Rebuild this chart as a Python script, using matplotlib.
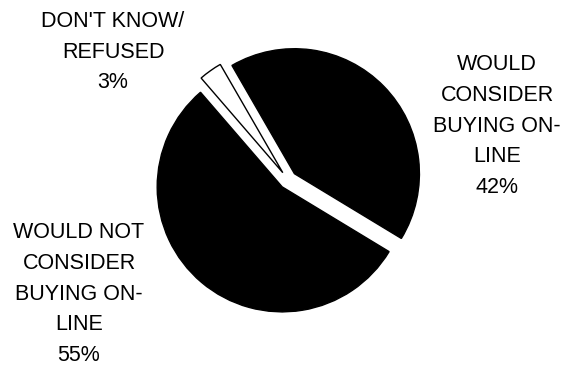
import matplotlib.pyplot as plt

plt.rcParams['font.family'] = ['Liberation Sans', 'DejaVu Sans']

shares = [42, 55, 3]
labels = ['WOULD\nCONSIDER\nBUYING ON-\nLINE\n42%',
          'WOULD NOT\nCONSIDER\nBUYING ON-\nLINE\n55%',
          "DON'T KNOW/\nREFUSED\n3%"]
colors = ['black', 'black', 'white']
label_xy = [(497, 375 - 126), (79, 375 - 294), (113, 375 - 52)]

fig = plt.figure(figsize=(5.7, 3.75), dpi=100)
ax = fig.add_axes([0, 0, 1, 1])

# explode is in data units here (pixels), not a fraction of the radius
ax.pie(shares, colors=colors, startangle=120, counterclock=False,
       center=(288, 195), radius=125, explode=[9, 9, 9],
       wedgeprops=dict(edgecolor='black', linewidth=1.0))
ax.set_xlim(0, 570)
ax.set_ylim(0, 375)
ax.set_aspect('equal')
ax.axis('off')

for lab, (x, y) in zip(labels, label_xy):
    ax.text(x, y, lab, ha='center', va='center', fontsize=15.5,
            linespacing=1.6, color='black')

fig.savefig('out.png', dpi=100)
